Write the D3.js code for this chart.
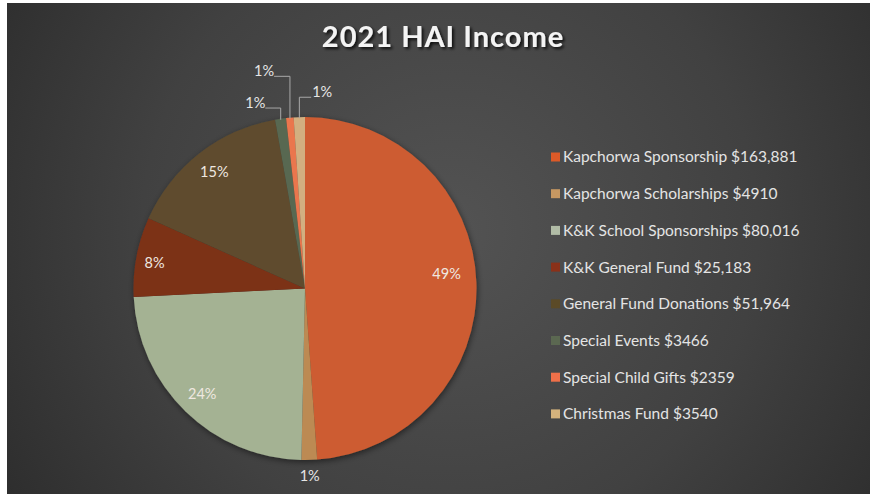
<!DOCTYPE html>
<html>
<head>
<meta charset="utf-8">
<script src="https://cdn.jsdelivr.net/npm/d3@7"></script>
<style>
  html, body { margin: 0; padding: 0; background: #ffffff; }
  svg { display: block; }
</style>
</head>
<body>
<svg id="chart" width="870" height="494"></svg>
<script>
// ---- Data ----
const title = "2021 HAI Income";
const categories = [
  "Kapchorwa Sponsorship", "Kapchorwa Scholarships", "K&K School Sponsorships",
  "K&K General Fund", "General Fund Donations", "Special Events",
  "Special Child Gifts", "Christmas Fund"
];
const amounts = [163881, 4910, 80016, 25183, 51964, 3466, 2359, 3540];
const amountLabels = ["$163,881", "$4910", "$80,016", "$25,183", "$51,964", "$3466", "$2359", "$3540"];
const colors = ["#c4582e", "#b4844f", "#9dab8d", "#772e16", "#5a482b", "#55634e", "#e0714a", "#c9a87b"];
const legendColors = ["#dc5a28", "#c79862", "#b1bca6", "#8a3119", "#5b4a27", "#5b6851", "#ef7049", "#d5b37d"];

// ---- Layout (not data) ----
const W = 870, H = 494;
const cx = 305, cy = 288.5, R = 171.5;
const labelLayout = [
  { type: "in", f: 0.83, da: -4 },
  { type: "out", r: 187, da: 0, leader: false },
  { type: "in", f: 0.86, da: 0 },
  { type: "in", f: 0.89, da: -1 },
  { type: "in", f: 0.86, da: 0 },
  { type: "out", r: 192, da: -6.8, leader: true, side: -1 },
  { type: "out", r: 221, da: -5.6, leader: true, side: -1 },
  { type: "out", r: 197, da: 6.9, leader: true, side: 1 }
];

const svg = d3.select("#chart");
const defs = svg.append("defs");

const bg = defs.append("radialGradient").attr("id", "bg")
  .attr("gradientUnits", "userSpaceOnUse")
  .attr("cx", 450).attr("cy", 230).attr("r", 560);
bg.append("stop").attr("offset", "0").attr("stop-color", "#535353");
bg.append("stop").attr("offset", "0.55").attr("stop-color", "#414141");
bg.append("stop").attr("offset", "1").attr("stop-color", "#2a2a2a");

svg.append("rect").attr("x", 0).attr("y", 0).attr("width", W).attr("height", H).attr("fill", "#ffffff");
svg.append("rect").attr("x", 7).attr("y", 3).attr("width", W - 7).attr("height", H - 3).attr("fill", "url(#bg)");

const sh = defs.append("filter").attr("id", "pieShadow").attr("x", "-20%").attr("y", "-20%").attr("width", "140%").attr("height", "140%");
sh.append("feGaussianBlur").attr("in", "SourceAlpha").attr("stdDeviation", 3);
sh.append("feOffset").attr("dx", 1).attr("dy", 2).attr("result", "b");
sh.append("feComponentTransfer").append("feFuncA").attr("type", "linear").attr("slope", 0.5);
const m = sh.append("feMerge");
m.append("feMergeNode");
m.append("feMergeNode").attr("in", "SourceGraphic");

const tsh = defs.append("filter").attr("id", "textShadow").attr("x", "-10%").attr("y", "-30%").attr("width", "120%").attr("height", "160%");
tsh.append("feGaussianBlur").attr("in", "SourceAlpha").attr("stdDeviation", 1.5);
tsh.append("feOffset").attr("dx", 1.5).attr("dy", 2).attr("result", "b");
tsh.append("feComponentTransfer").append("feFuncA").attr("type", "linear").attr("slope", 0.8);
const tm = tsh.append("feMerge");
tm.append("feMergeNode");
tm.append("feMergeNode").attr("in", "SourceGraphic");

colors.forEach((c, i) => {
  const g = defs.append("linearGradient").attr("id", "sg" + i)
    .attr("gradientUnits", "userSpaceOnUse")
    .attr("x1", cx - R * 0.4).attr("y1", cy - R).attr("x2", cx + R * 0.4).attr("y2", cy + R);
  g.append("stop").attr("offset", "0").attr("stop-color", d3.color(c).brighter(0.12));
  g.append("stop").attr("offset", "1").attr("stop-color", d3.color(c).darker(0.15));
});

svg.append("text")
  .attr("x", 443).attr("y", 47)
  .attr("text-anchor", "middle")
  .attr("font-family", "Lato, 'Open Sans', sans-serif")
  .attr("font-weight", "bold")
  .attr("font-size", 29)
  .attr("letter-spacing", 1)
  .attr("fill", "#f4f4f4")
  .attr("filter", "url(#textShadow)")
  .text(title);

const total = d3.sum(amounts);
const pie = d3.pie().value(d => d).sort(null);
const arcs = pie(amounts);
const arc = d3.arc().innerRadius(0).outerRadius(R);

const g = svg.append("g").attr("transform", `translate(${cx},${cy})`);
g.append("g").attr("filter", "url(#pieShadow)")
  .selectAll("path").data(arcs).join("path")
  .attr("d", arc)
  .attr("fill", (d, i) => `url(#sg${i})`);

const pct = d3.format(".0%");
const toXY = (ang, r) => [r * Math.sin(ang), -r * Math.cos(ang)];
const labelFont = "Lato, 'Open Sans', sans-serif";

arcs.forEach((d, i) => {
  const L = labelLayout[i];
  const mid = (d.startAngle + d.endAngle) / 2;
  const txt = pct(d.value / total);
  if (L.type === "in") {
    const [x, y] = toXY(mid + L.da * Math.PI / 180, R * L.f);
    g.append("text").attr("x", x).attr("y", y).attr("dy", "0.35em")
      .attr("text-anchor", "middle").attr("font-family", labelFont)
      .attr("font-size", 14.5).attr("fill", "#efe8e0").text(txt);
  } else {
    const [x, y] = toXY(mid + L.da * Math.PI / 180, L.r);
    g.append("text").attr("x", x).attr("y", y).attr("dy", "0.35em")
      .attr("text-anchor", "middle").attr("font-family", labelFont)
      .attr("font-size", 14.5).attr("fill", "#e6e6e6").text(txt);
    if (L.leader) {
      const [ex, ey] = toXY(mid, R - 1);
      const ly = y + 5;
      const hx = L.side < 0 ? x + 10 : x - 11;
      g.append("path")
        .attr("d", `M${ex},${ey} L${ex},${ly} L${hx},${ly}`)
        .attr("fill", "none").attr("stroke", "#a8a8a8").attr("stroke-width", 1);
    }
  }
});

const lx0 = 551, ly0 = 157, lstep = 36.7;
const leg = svg.append("g");
categories.forEach((c, i) => {
  const y = ly0 + i * lstep;
  leg.append("rect").attr("x", lx0).attr("y", y - 4.5).attr("width", 9).attr("height", 9)
    .attr("fill", legendColors[i]);
  leg.append("text").attr("x", lx0 + 12).attr("y", y).attr("dy", "0.35em")
    .attr("font-family", labelFont).attr("font-size", 15.5)
    .attr("fill", "#e4e4e4").text(c + " " + amountLabels[i]);
});
</script>
</body>
</html>
